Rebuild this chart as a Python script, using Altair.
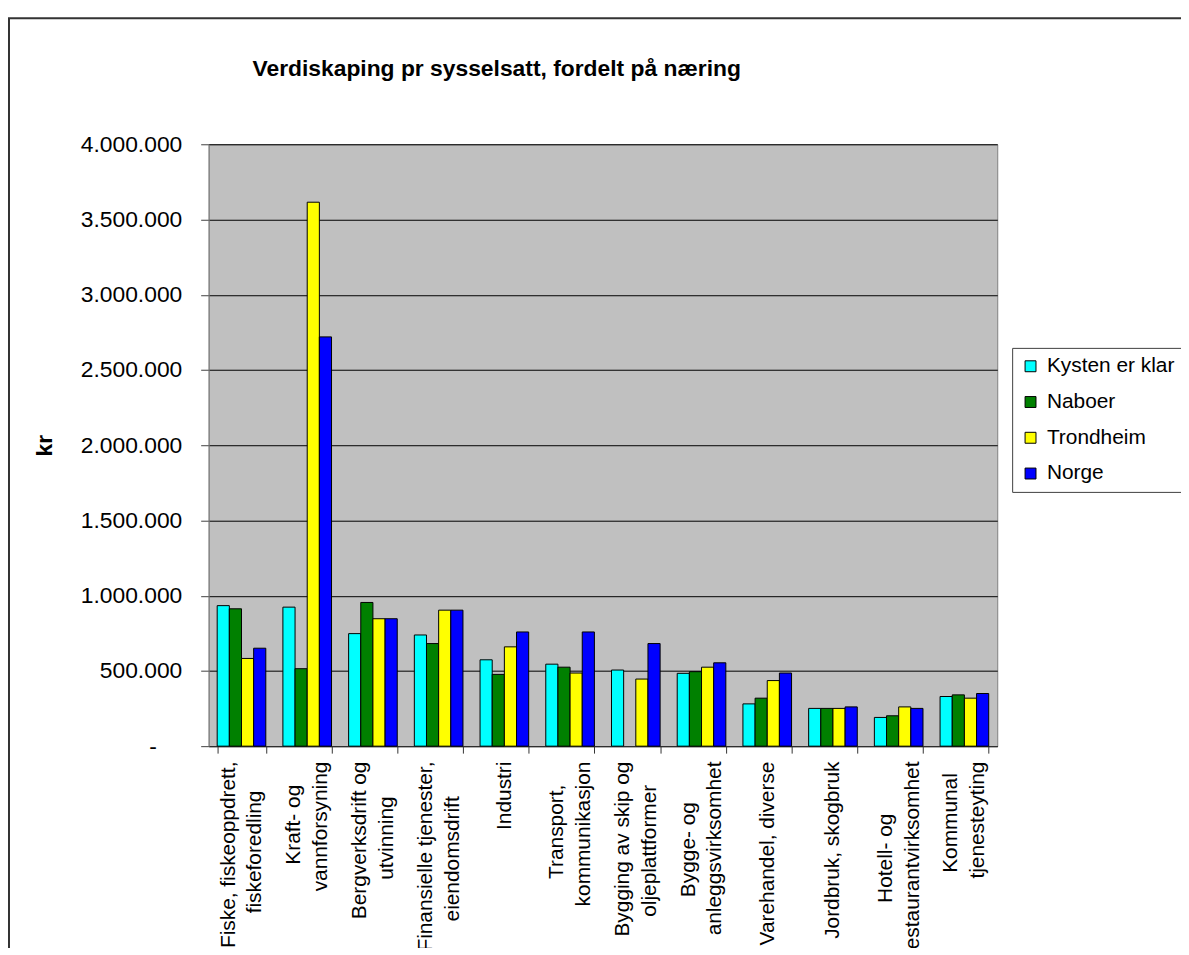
import altair as alt
import pandas as pd

categories = [
    "Fiske, fiskeoppdrett,\nfiskeforedling",
    "Kraft- og\nvannforsyning",
    "Bergverksdrift og\nutvinning",
    "Finansielle tjenester,\neiendomsdrift",
    "Industri",
    "Transport,\nkommunikasjon",
    "Bygging av skip og\noljeplattformer",
    "Bygge- og\nanleggsvirksomhet",
    "Varehandel, diverse",
    "Jordbruk, skogbruk",
    "Hotell- og\nrestaurantvirksomhet",
    "Kommunal\ntjenesteyting",
]
series = ["Kysten er klar", "Naboer", "Trondheim", "Norge"]
kysten = [934000, 924000, 748000, 739000, 574000, 545000, 506000, 484000, 281000, 251000, 191000, 330000]
naboer = [913000, 515000, 955000, 682000, 477000, 525000, None, 495000, 319000, 251000, 202000, 341000]
trondheim = [583000, 3615000, 847000, 904000, 660000, 486000, 446000, 525000, 436000, 251000, 261000, 319000]
norge = [651000, 2720000, 847000, 904000, 759000, 759000, 682000, 554000, 486000, 261000, 251000, 350000]
colors = ["#00FFFF", "#008000", "#FFFF00", "#0000FF"]
y_ticks = [0, 500000, 1000000, 1500000, 2000000, 2500000, 3000000, 3500000, 4000000]
title_text = "Verdiskaping pr sysselsatt, fordelt på næring"

ZW = "\u200b"    # zero-width, keeps padded lines from being trimmed
NB = "\u00a0"

# Arial / Liberation Sans advance widths (per 1000 em), used to centre
# the lines of each two-line category label inside its block.
W = {c: 556 for c in "abdeghnopquå0123456789"}
W.update({"c": 500, "f": 278, "i": 222, "j": 222, "k": 500, "l": 222, "m": 833,
          "r": 333, "s": 500, "t": 278, "v": 500, "w": 722, "x": 500, "y": 500,
          "z": 500, " ": 278, ",": 278, "-": 333, ".": 278, "æ": 889, "ø": 611,
          "B": 667, "F": 611, "H": 722, "I": 278, "J": 500, "K": 667, "T": 611, "V": 667})


def text_w(s):
    return sum(W.get(ch, 556) for ch in s)


def display_label(label):
    lines = label.split("\n")
    widest = max(text_w(l) for l in lines)
    padded = []
    for l in lines:
        n = int(round((widest - text_w(l)) / 2 / 278))
        padded.append(l + NB * n + ZW if n > 0 else l)
    spacer = NB + ZW
    if len(padded) == 1:
        # half-height spacer line so one-line labels sit on the band centre
        return spacer + "\n" + padded[0]
    return padded[0] + "\n" + spacer + "\n" + padded[1]


display = [display_label(c) for c in categories]

rows = []
for name, vals in zip(series, [kysten, naboer, trondheim, norge]):
    for lab, v in zip(display, vals):
        rows.append({"cat": lab, "series": name, "value": v})
df = pd.DataFrame(rows)

FONT = "Liberation Sans"

bars = alt.Chart(df).mark_bar(stroke="black", strokeWidth=1).encode(
    x=alt.X(
        "cat:N",
        sort=display,
        scale=alt.Scale(paddingInner=0.26, paddingOuter=0.13),
        axis=alt.Axis(
            title=None,
            labelAngle=270,
            labelAlign="right",
            labelBaseline="middle",
            labelExpr="split(datum.label, '\\n')",
            labelFontSize=21,
            labelLineHeight=13.5,
            labelColor="black",
            labelPadding=8,
            labelLimit=1000,
            labelOffset=-13.5,
            tickSize=7,
            tickBand="extent",
            tickColor="#333333",
            domainColor="#333333",
            grid=False,
            labelOverlap=False,
        ),
    ),
    xOffset=alt.XOffset("series:N", sort=series, scale=alt.Scale(paddingInner=0, paddingOuter=0)),
    y=alt.Y(
        "value:Q",
        scale=alt.Scale(domain=[0, 4000000], nice=False),
        axis=alt.Axis(
            title="kr",
            titleFontSize=23,
            titleFontWeight="bold",
            titleColor="black",
            titleAngle=270,
            titleAlign="center",
            titleBaseline="middle",
            titleX=-165,
            titleY=303,
            values=y_ticks,
            labelExpr="datum.value == 0 ? '-" + NB * 4 + ZW + "' : replace(format(datum.value, ','), regexp(',', 'g'), '.')",
            labelFontSize=23,
            labelColor="black",
            labelPadding=19,
            tickSize=8,
            tickColor="#404040",
            domainColor="#808080",
            grid=True,
            gridColor="black",
            gridWidth=1,
        ),
    ),
    color=alt.Color(
        "series:N",
        sort=series,
        scale=alt.Scale(domain=series, range=colors),
        legend=alt.Legend(
            title=None,
            orient="none",
            legendX=809,
            legendY=205,
            symbolType="square",
            symbolSize=121,
            symbolStrokeColor="black",
            symbolStrokeWidth=1,
            symbolOpacity=1,
            labelFontSize=21,
            labelColor="black",
            labelOffset=6,
            rowPadding=14,
            padding=8,
            strokeColor="#404040",
            fillColor="white",
        ),
    ),
)

frame = alt.Chart(alt.Data(values=[{}])).mark_rect(
    filled=False, stroke="#333333", strokeWidth=2
).encode(
    x=alt.value(-201), x2=alt.value(1200), y=alt.value(-127), y2=alt.value(1000)
)

title = alt.Chart(alt.Data(values=[{}])).mark_text(
    font=FONT,
    fontSize=23,
    fontWeight="bold",
    color="black",
    align="center",
    baseline="alphabetic",
).encode(
    x=alt.value(290), y=alt.value(-69), text=alt.value(title_text)
)

chart = alt.layer(frame, title, bars).properties(
    width=794,
    height=606,
    autosize=alt.AutoSizeParams(type="none"),
    padding={"left": 202, "top": 134, "right": 185, "bottom": 200},
).configure(font=FONT).configure_view(fill="#C0C0C0", stroke="#808080", strokeWidth=1)

chart.save("out.html", embed_options={"renderer": "svg", "actions": False})
